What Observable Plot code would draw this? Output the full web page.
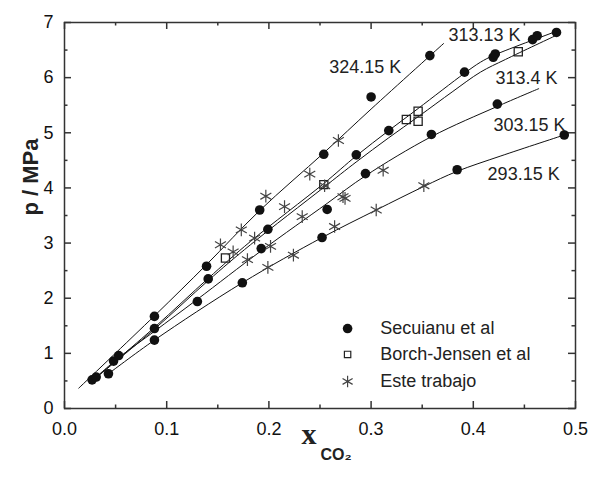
<!DOCTYPE html>
<html><head><meta charset="utf-8">
<script src="https://cdn.jsdelivr.net/npm/d3@7"></script>
<script src="https://cdn.jsdelivr.net/npm/@observablehq/plot@0.6"></script>
<style>
body{margin:0;background:#fff}
#chart svg{display:block}
</style>
</head><body><div id="chart"></div>
<script>
// ---- data ----
const secuianu = [
  [0.027,0.52],[0.031,0.57],[0.043,0.63],[0.048,0.86],[0.053,0.96],
  [0.088,1.24],[0.088,1.45],[0.088,1.67],[0.130,1.94],[0.1406,2.35],[0.139,2.58],
  [0.174,2.28],[0.191,3.60],[0.1925,2.90],[0.199,3.25],[0.252,3.10],[0.2537,4.61],
  [0.257,3.61],[0.2855,4.60],[0.2945,4.26],[0.300,5.65],[0.3173,5.04],[0.3575,6.40],
  [0.359,4.97],[0.3842,4.33],[0.3914,6.10],[0.4195,6.37],[0.4215,6.43],[0.4235,5.52],
  [0.458,6.69],[0.4625,6.76],[0.4814,6.82],[0.489,4.96]
];
const borchJensen = [
  [0.1575,2.73],[0.2537,4.06],[0.3345,5.24],[0.346,5.39],[0.346,5.21],[0.444,6.47]
];
const esteTrabajo = [
  [0.1526,2.97],[0.165,2.84],[0.173,3.24],[0.179,2.70],[0.186,3.09],[0.197,3.85],
  [0.199,2.56],[0.2016,2.94],[0.2153,3.66],[0.224,2.78],[0.2326,3.48],[0.240,4.25],
  [0.2545,4.04],[0.2643,3.30],[0.268,4.86],[0.2725,3.84],[0.2745,3.81],[0.305,3.60],
  [0.3118,4.32],[0.3516,4.04]
];
// fitted isotherm curves
const curve32415 = [[0.014,0.37],[0.088,1.68],[0.139,2.61],[0.191,3.59],[0.254,4.64],[0.300,5.43],[0.371,6.62]];
const curve31313 = [[0.027,0.50],[0.088,1.47],[0.1406,2.36],[0.182,3.03],[0.2537,4.08],[0.2854,4.58],[0.3173,5.04],[0.346,5.44],[0.3914,6.08],[0.407,6.28],[0.4207,6.41],[0.4814,6.84]];
const curve3134  = [[0.027,0.50],[0.088,1.44],[0.1406,2.32],[0.182,2.97],[0.2537,4.01],[0.2854,4.47],[0.3173,4.91],[0.3467,5.30],[0.380,5.75],[0.407,6.10],[0.4315,6.33],[0.4804,6.76]];
const curve30315 = [[0.028,0.52],[0.053,0.92],[0.088,1.40],[0.130,1.98],[0.1925,2.86],[0.257,3.72],[0.2945,4.22],[0.359,4.93],[0.4237,5.48],[0.464,5.80]];
const curve29315 = [[0.043,0.63],[0.088,1.24],[0.174,2.28],[0.252,3.10],[0.305,3.60],[0.352,4.03],[0.384,4.30],[0.427,4.58],[0.489,4.96]];
const isothermNames = ["324.15 K","313.13 K","313.4 K","303.15 K","293.15 K"];
const isothermLabelX = [0.259,0.3757,0.4217,0.4198,0.414];
const isothermLabelY = [6.18,6.76,5.99,5.14,4.24];
const legendNames = ["Secuianu et al","Borch-Jensen et al","Este trabajo"];
const xTicks = [0,0.1,0.2,0.3,0.4,0.5];
const xMinor = [0.05,0.15,0.25,0.35,0.45];
const yTicks = [0,1,2,3,4,5,6,7];
const yMinor = [0.5,1.5,2.5,3.5,4.5,5.5,6.5];

// ---- build ----
const W = 590, H = 477, ML = 64, MR = 15, MT = 22, MB = 69;
const FW = W - ML - MR, FH = H - MT - MB;
const curves = [curve32415,curve31313,curve3134,curve30315,curve29315];
const curveRows = curves.flatMap((c,i)=>c.map(([x,y])=>({x,y,iso:isothermNames[i]})));
const toXY = a => a.map(([x,y])=>({x,y}));
const labels = isothermNames.map((t,i)=>({t,x:isothermLabelX[i],y:isothermLabelY[i]}));
const legendX = 0.277, legendTextX = 0.309;
const legendRows = legendNames.map((t,i)=>({t, y:[1.45,0.98,0.49][i]}));
const FONT = "'Liberation Sans', Arial, sans-serif";
const MAJ = 7, MIN = 3.5;
const tk = {stroke:"#333", strokeWidth:1.5};

const chart = Plot.plot({
  width: W, height: H,
  marginLeft: ML, marginRight: MR, marginTop: MT, marginBottom: MB,
  style: {fontFamily: FONT, fontSize: "18px", color: "#111", background: "#fff"},
  x: {domain: [0,0.5]},
  y: {domain: [0,7]},
  marks: [
    // tick labels
    Plot.axisX({anchor:"bottom", ticks:xTicks, tickSize:0, tickPadding:14, tickFormat:d3.format(".1f"), fontSize:18, label:null}),
    Plot.axisY({anchor:"left", ticks:yTicks, tickSize:0, tickPadding:11, tickFormat:d3.format("d"), fontSize:18, label:null}),
    // inward ticks on all four sides
    Plot.ruleX(xTicks, {x:d=>d, insetTop:FH-MAJ, ...tk}),
    Plot.ruleX(xMinor, {x:d=>d, insetTop:FH-MIN, ...tk}),
    Plot.ruleX(xTicks, {x:d=>d, insetBottom:FH-MAJ, ...tk}),
    Plot.ruleX(xMinor, {x:d=>d, insetBottom:FH-MIN, ...tk}),
    Plot.ruleY(yTicks, {y:d=>d, insetRight:FW-MAJ, ...tk}),
    Plot.ruleY(yMinor, {y:d=>d, insetRight:FW-MIN, ...tk}),
    Plot.ruleY(yTicks, {y:d=>d, insetLeft:FW-MAJ, ...tk}),
    Plot.ruleY(yMinor, {y:d=>d, insetLeft:FW-MIN, ...tk}),
    Plot.frame({stroke:"#333", strokeWidth:1.5}),
    // curves
    Plot.line(curveRows, {x:"x", y:"y", z:"iso", curve:"catmull-rom", stroke:"#111", strokeWidth:1}),
    // data
    Plot.dot(toXY(secuianu), {x:"x", y:"y", r:4.8, fill:"#111", stroke:"none"}),
    Plot.dot(toXY(borchJensen), {x:"x", y:"y", symbol:"square", r:4.6, fill:"none", stroke:"#222", strokeWidth:1.3}),
    Plot.dot(toXY(esteTrabajo), {x:"x", y:"y", symbol:"asterisk", r:6, fill:"none", stroke:"#444", strokeWidth:1.2}),
    // isotherm labels
    Plot.text(labels, {x:"x", y:"y", text:"t", textAnchor:"start", fontSize:18, fill:"#222"}),
    // legend
    Plot.dot(legendRows.slice(0,1), {x:()=>legendX, y:"y", r:4.8, fill:"#111", stroke:"none"}),
    Plot.dot(legendRows.slice(1,2), {x:()=>legendX, y:"y", symbol:"square", r:3.6, fill:"none", stroke:"#222", strokeWidth:1.2}),
    Plot.dot(legendRows.slice(2,3), {x:()=>legendX, y:"y", symbol:"asterisk", r:5.5, fill:"none", stroke:"#444", strokeWidth:1.2}),
    Plot.text(legendRows, {x:()=>legendTextX, y:"y", text:"t", textAnchor:"start", fontSize:18, fill:"#222"}),
    // axis titles
    Plot.text(["p / MPa"], {frameAnchor:"left", dx:-34, rotate:-90, fontSize:22, fontWeight:"bold", fill:"#222"}),
    Plot.text(["x"], {frameAnchor:"bottom", dx:-11, dy:35, fontSize:30, fontWeight:"bold", fontFamily:"'Liberation Serif', 'Times New Roman', serif", fill:"#222"}),
    Plot.text(["CO₂"], {frameAnchor:"bottom", dx:16, dy:51, fontSize:16, fontWeight:"bold", fill:"#222"})
  ]
});
document.getElementById("chart").appendChild(chart);
</script>
</body></html>
